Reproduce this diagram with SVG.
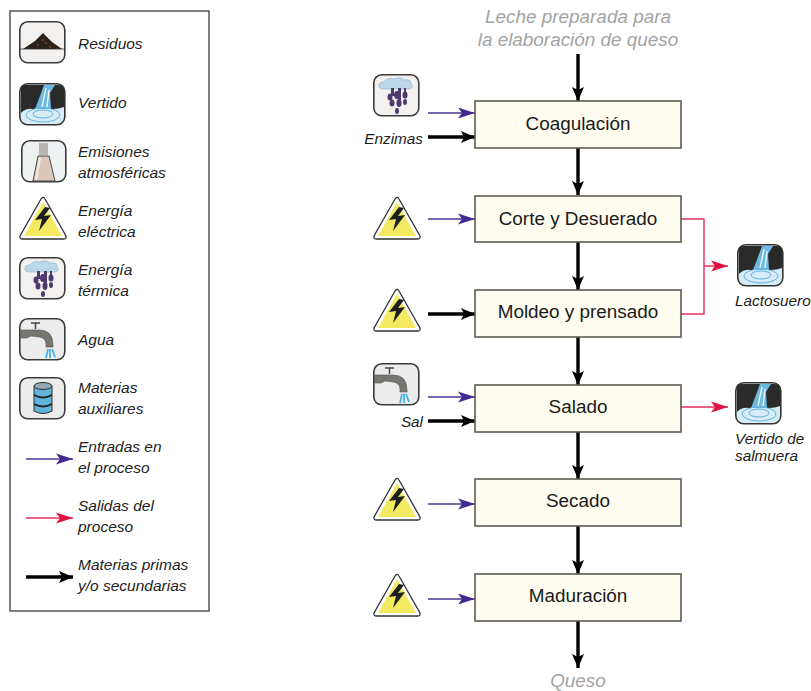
<svg xmlns="http://www.w3.org/2000/svg" width="811" height="691" viewBox="0 0 811 691">
<style>
text{font-family:"Liberation Sans",Arial,sans-serif;fill:#222}
.l{font-size:15.500px;font-style:italic}
.e{font-size:15.300px;font-style:italic;fill:#1c1c1c}
.g{font-size:18.900px;font-style:italic;fill:#a3a3a3;text-anchor:middle}
.n{font-size:18.900px;text-anchor:middle;fill:#1a1a1a}
.box{fill:#fffdf0;stroke:#5c5a52;stroke-width:1.600}
.ic{fill:#f2f1ef;stroke:#3a3a3a;stroke-width:1.600}
.k{stroke:#000;stroke-width:3.400;fill:none}
.p{stroke:#4a3591;stroke-width:1.300;fill:none}
.r{stroke:#e2315a;stroke-width:1.400;fill:none}
</style>
<defs>
<marker id="mk" markerUnits="userSpaceOnUse" markerWidth="16" markerHeight="14" refX="15" refY="7" orient="auto"><path d="M1 1L15 7L1 13L4 7Z" fill="#000"/></marker>
<marker id="mp" markerUnits="userSpaceOnUse" markerWidth="19" markerHeight="14" refX="18" refY="6" orient="auto"><path d="M1 0.500L18 6L1 11.500L5 6Z" fill="#432a92"/></marker>
<marker id="mr" markerUnits="userSpaceOnUse" markerWidth="19" markerHeight="14" refX="18" refY="6" orient="auto"><path d="M1 0.500L18 6L1 11.500L5 6Z" fill="#e0123f"/></marker>
<g id="i-res"><rect x="0.800" y="0.800" width="45" height="41" rx="8" class="ic"/><path d="M4 28L16 20L24 12L33 21L43 28Z" fill="#2a211b"/><path d="M1 28H45.500" stroke="#333" stroke-width="0.800"/><path d="M18 24h2M26 22h2M30 26h2M23 19h2" stroke="#a5552a" stroke-width="1"/></g>
<g id="i-ver"><rect x="0.800" y="0.800" width="45" height="41" rx="8" fill="#d7ecf6" stroke="#333" stroke-width="1.600"/><path d="M2 7Q2 2 7 2H39Q45 2 45 7V24Q40 26 34 26H14Q7 25 2 30Z" fill="#2a2a2a"/><path d="M25 2H36L31 10L32 26H16L21 13Z" fill="#6db9e1"/><path d="M27 5L23 24M30 7L28 24" stroke="#e8f6fb" stroke-width="1.400"/><ellipse cx="24" cy="32" rx="17" ry="7" fill="none" stroke="#5fb2de"/><ellipse cx="24" cy="31" rx="10" ry="4" fill="none" stroke="#5fb2de"/></g>
<g id="i-emi"><rect x="0.800" y="0.800" width="44" height="41" rx="8" fill="#edf1f1" stroke="#3a3a3a" stroke-width="1.600"/><path d="M18 3H27L27 15H18Z" fill="#bdb6b0"/><path d="M17 16H28L34 41H12Z" fill="#dcc8ba" stroke="#4a4a4a"/><path d="M19 18L15 40" stroke="#f5eee8" stroke-width="2"/></g>
<g id="i-ene"><path d="M24 1.500Q25 1 26 3L47 40Q47.500 43 45 43H3Q0.500 43 1 40L22 3Q23 1.500 24 1.500Z" fill="#fff" stroke="#333" stroke-width="1.300"/><path d="M24 6L43 40H5Z" fill="#f3ea62"/><path d="M26 11L16 24L23 23L20 35L32 19L25 20L31 12Z" fill="#1e1e1e"/></g>
<g id="i-ter"><rect x="0.800" y="0.800" width="45" height="41" rx="8" class="ic"/><path d="M6 13Q5 8 11 8Q14 3 21 5Q27 2 31 6Q39 5 38 10Q42 14 35 15H10Q7 15 6 13Z" fill="#bcd7e8" stroke="#8db1c8" stroke-width="0.600"/><g fill="#4c3a6e"><path d="M18 14h3v8h-3zM25 14h3v12h-3zM31 14h2v6h-2z"/><ellipse cx="17" cy="23" rx="2.500" ry="3.500"/><ellipse cx="24" cy="21" rx="3" ry="4"/><ellipse cx="32" cy="21" rx="2.500" ry="3.500"/><ellipse cx="19" cy="29" rx="2.500" ry="3.500"/><ellipse cx="26" cy="29" rx="2.500" ry="4"/><ellipse cx="32" cy="28" rx="2" ry="3"/><ellipse cx="24" cy="37" rx="2" ry="3"/></g></g>
<g id="i-agu"><rect x="0.800" y="0.800" width="45" height="41" rx="8" fill="#ececec" stroke="#3a3a3a" stroke-width="1.600"/><path d="M12 5H21M16.500 5V11" stroke="#444" stroke-width="1.500"/><path d="M1.500 12H20Q34 12 34 27V29H27V26Q27 20 20 19L12 18L8 20H1.500Z" fill="#77756f" stroke="#555" stroke-width="0.600"/><path d="M29 31L27 40M31 31V40M33 31L36 39" stroke="#49b1e2" stroke-width="1.800"/></g>
<g id="i-mat"><rect x="0.800" y="0.800" width="45" height="41" rx="8" fill="#ececec" stroke="#3a3a3a" stroke-width="1.600"/><path d="M15 9V34Q24 39 33 34V9Z" fill="#62b3dc" stroke="#2e2e2e"/><ellipse cx="24" cy="9" rx="9" ry="3.500" fill="#8fa9b5" stroke="#2e2e2e"/><path d="M15 18Q24 23 33 18M15 27Q24 32 33 27" fill="none" stroke="#222" stroke-width="1.800"/></g>
</defs>

<g id="legend">
<rect x="10" y="11" width="199" height="600" fill="#fff" stroke="#555" stroke-width="1.500"/>
<use href="#i-res" x="19" y="21"/><text class="l" x="78" y="49">Residuos</text>
<use href="#i-ver" x="19" y="83"/><text class="l" x="78" y="108">Vertido</text>
<use href="#i-emi" x="21" y="140"/><text class="l" x="78" y="157">Emisiones</text><text class="l" x="78" y="178">atmosféricas</text>
<use href="#i-ene" x="19" y="196"/><text class="l" x="78" y="216">Energía</text><text class="l" x="78" y="237">eléctrica</text>
<use href="#i-ter" x="19" y="257"/><text class="l" x="78" y="275">Energía</text><text class="l" x="78" y="296">térmica</text>
<use href="#i-agu" x="19" y="318"/><text class="l" x="78" y="345">Agua</text>
<use href="#i-mat" x="19" y="377"/><text class="l" x="78" y="393">Materias</text><text class="l" x="78" y="414">auxiliares</text>
<path class="p" d="M26 459H73" marker-end="url(#mp)"/><text class="l" x="78" y="452">Entradas en</text><text class="l" x="78" y="473">el proceso</text>
<path class="r" d="M26 518H73" marker-end="url(#mr)"/><text class="l" x="78" y="511">Salidas del</text><text class="l" x="78" y="532">proceso</text>
<path class="k" d="M26 577H73" marker-end="url(#mk)"/><text class="l" x="78" y="570">Materias primas</text><text class="l" x="78" y="591">y/o secundarias</text>
</g>

<g id="connectors">
<path class="k" d="M578 54V101" marker-end="url(#mk)"/>
<path class="k" d="M578 148V195" marker-end="url(#mk)"/>
<path class="k" d="M578 242V290" marker-end="url(#mk)"/>
<path class="k" d="M578 337V385" marker-end="url(#mk)"/>
<path class="k" d="M578 432V479" marker-end="url(#mk)"/>
<path class="k" d="M578 526V574" marker-end="url(#mk)"/>
<path class="k" d="M578 621V668" marker-end="url(#mk)"/>
<path class="p" d="M428 113H475" marker-end="url(#mp)"/>
<path class="k" d="M428 137H475" marker-end="url(#mk)"/>
<path class="p" d="M428 219H475" marker-end="url(#mp)"/>
<path class="k" d="M428 314H475" marker-end="url(#mk)"/>
<path class="p" d="M428 397H475" marker-end="url(#mp)"/>
<path class="k" d="M428 421H475" marker-end="url(#mk)"/>
<path class="p" d="M428 504H475" marker-end="url(#mp)"/>
<path class="p" d="M428 599H475" marker-end="url(#mp)"/>
<path class="r" d="M681 219H704V314H681M704 266H728" marker-end="url(#mr)"/>
<path class="r" d="M681 407H728" marker-end="url(#mr)"/>
</g>

<g id="n-leche"><text class="g" x="578" y="23">Leche preparada para</text><text class="g" x="578" y="46">la elaboración de queso</text></g>
<g id="n-coagulacion"><rect class="box" x="475" y="101" width="206" height="47"/><text class="n" x="578" y="130">Coagulación</text></g>
<g id="n-corte"><rect class="box" x="475" y="196" width="206" height="46"/><text class="n" x="578" y="225">Corte y Desuerado</text></g>
<g id="n-moldeo"><rect class="box" x="475" y="290" width="206" height="47"/><text class="n" x="578" y="318">Moldeo y prensado</text></g>
<g id="n-salado"><rect class="box" x="475" y="385" width="206" height="47"/><text class="n" x="578" y="413">Salado</text></g>
<g id="n-secado"><rect class="box" x="475" y="479" width="206" height="47"/><text class="n" x="578" y="507">Secado</text></g>
<g id="n-maduracion"><rect class="box" x="475" y="574" width="206" height="47"/><text class="n" x="578" y="602">Maduración</text></g>
<g id="n-queso"><text class="g" x="578" y="687">Queso</text></g>

<g id="n-termica"><use href="#i-ter" x="373" y="74"/></g>
<g id="n-enzimas"><text class="e" x="423" y="144" text-anchor="end">Enzimas</text></g>
<g id="n-ene1"><use href="#i-ene" x="373" y="196"/></g>
<g id="n-ene2"><use href="#i-ene" x="373" y="288"/></g>
<g id="n-agua"><use href="#i-agu" x="373" y="363"/></g>
<g id="n-sal"><text class="e" x="423" y="427" text-anchor="end">Sal</text></g>
<g id="n-ene3"><use href="#i-ene" x="373" y="477"/></g>
<g id="n-ene4"><use href="#i-ene" x="373" y="573"/></g>
<g id="n-lactosuero"><use href="#i-ver" x="737" y="244"/><text class="e" x="735" y="306">Lactosuero</text></g>
<g id="n-salmuera"><use href="#i-ver" x="735" y="382"/><text class="e" x="735" y="444">Vertido de</text><text class="e" x="735" y="461">salmuera</text></g>
</svg>
